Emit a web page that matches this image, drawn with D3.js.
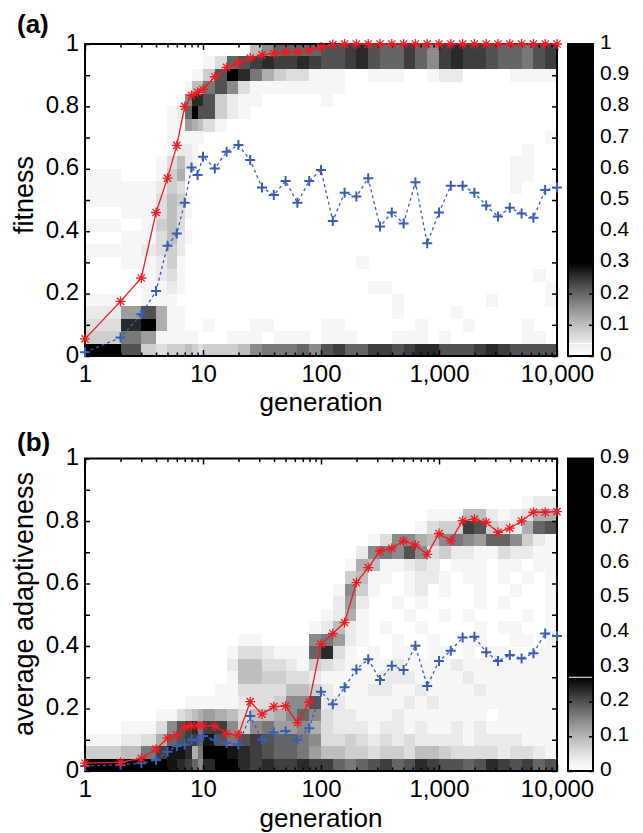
<!DOCTYPE html>
<html>
<head>
<meta charset="utf-8">
<script src="https://cdn.jsdelivr.net/npm/d3@7"></script>
<style>
    body { margin: 0; background: #fff; }
    text { font-family: "Liberation Sans", Arial, sans-serif; fill: #000; }
</style>
</head>
<body>
<svg id="chart" width="643" height="833"></svg>
<script>
// generations sampled (x values of the markers and the heat map column edges)
const generations = [1, 2, 3, 4, 5, 6, 7, 8, 9, 10,
    12.59, 15.85, 19.95, 25.12, 31.62, 39.81, 50.12, 63.1, 79.43, 100,
    125.9, 158.5, 199.5, 251.2, 316.2, 398.1, 501.2, 631, 794.3, 1000,
    1259, 1585, 1995, 2512, 3162, 3981, 5012, 6310, 7943, 10000];

const genTicks = [1, 10, 100, 1000, 10000];
const genTickLabels = ['1', '10', '100', '1,000', '10,000'];

const valueBins = [0, 0.04, 0.08, 0.12, 0.16, 0.2, 0.24, 0.28, 0.32, 0.36, 0.4, 0.44, 0.48,
    0.52, 0.56, 0.6, 0.64, 0.68, 0.72, 0.76, 0.8, 0.84, 0.88, 0.92, 0.96, 1];

const yTicks = [0, 0.1, 0.2, 0.3, 0.4, 0.5, 0.6, 0.7, 0.8, 0.9, 1];
const yTickLabels = ['0', '', '0.2', '', '0.4', '', '0.6', '', '0.8', '', '1'];

// (a) fitness
const fitnessBest = [0.055, 0.175, 0.25, 0.46, 0.57, 0.675, 0.80, 0.835, 0.845, 0.855,
    0.895, 0.925, 0.94, 0.955, 0.965, 0.97, 0.975, 0.975, 0.98, 0.99,
    0.998, 1, 1, 1, 1, 1, 1, 1, 1, 1,
    1, 1, 1, 1, 1, 1, 1, 1, 1, 1];
const fitnessMean = [0.012, 0.059, 0.134, 0.208, 0.353, 0.393, 0.491, 0.604, 0.58, 0.639,
    0.601, 0.655, 0.676, 0.628, 0.54, 0.516, 0.561, 0.491, 0.561, 0.596,
    0.433, 0.523, 0.511, 0.57, 0.415, 0.46, 0.425, 0.557, 0.361, 0.46,
    0.546, 0.546, 0.523, 0.482, 0.447, 0.475, 0.457, 0.443, 0.532, 0.54];
// share of runs per cell, one hex digit per column (0 = none, F = darkest), rows from top bin down
const fitnessDensity = [
    '0000000000000' + '58AAAA' + 'BBCDBAACA8CDCCBAA9BC',
    '000000000' + '13AB' + 'CDCCDC' + 'BBCDBAACA8CDCCBAA9BC',
    '0000000' + '11' + '4BFD9' + '64331' + '11001110012200001111',
    '000000' + '1' + '559B83' + '111111' + '11000000000000000000',
    '00000' + '1' + '8DDB' + '4211' + '00000' + '10000000000000000000',
    '0000' + '12AFBB' + '421' + '000000' + '00000000000000000000',
    '0000' + '117653' + '1' + '00000000' + '00000000000000000000',
    '0000' + '11111' + '0000000000' + '00000000000000000001',
    '0000' + '1221' + '00000000000' + '00000000000000000100',
    '000' + '13521' + '00000000000' + '00000000000000001100',
    '100' + '1461' + '000000000000' + '00000000000000001100',
    '1112' + '43' + '0000000000000' + '00000000000000001000',
    '1113' + '541' + '000000000000' + '00000000000000000000',
    '0113' + '531' + '000000000000' + '00000000000000000000',
    '1014' + '53' + '0000000000000' + '00000000000000000000',
    '0113' + '521' + '000000000000' + '00000000000000000000',
    '1123' + '42' + '0000000000000' + '00000000000000000000',
    '0112' + '41' + '0000000000000' + '00010000000000000000',
    '0012' + '31' + '0000000000000' + '00000000000000000010',
    '0011' + '21' + '0000000000000' + '00001100000000000001',
    '1011' + '10' + '0000000000000' + '00000010000000100001',
    '27B6' + '11' + '0000000000000' + '00000010000100000000',
    '3DF6' + '11' + '0001000110000' + '11000000100010000100',
    '4971' + '1111' + '00011101110' + '11100011101000000110',
    'FB43445434445' + '8999A8' + 'BCAACCBCDDBBBCDCBBBB'
];
const fitnessBarTicks = [0, 0.1, 0.2, 0.3, 0.4, 0.5, 0.6, 0.7, 0.8, 0.9, 1];
const fitnessBarLabels = ['0', '0.1', '0.2', '0.3', '0.4', '0.5', '0.6', '0.7', '0.8', '0.9', '1'];

// (b) average adaptiveness
const adaptBest = [0.025, 0.028, 0.04, 0.07, 0.105, 0.115, 0.14, 0.145, 0.145, 0.145,
    0.144, 0.12, 0.115, 0.222, 0.182, 0.206, 0.208, 0.155, 0.22, 0.406,
    0.44, 0.475, 0.603, 0.651, 0.704, 0.713, 0.736, 0.723, 0.693, 0.76,
    0.737, 0.801, 0.806, 0.796, 0.764, 0.777, 0.80, 0.828, 0.828, 0.83];
const adaptMean = [0.016, 0.02, 0.025, 0.035, 0.062, 0.08, 0.085, 0.101, 0.098, 0.112,
    0.1, 0.09, 0.085, 0.176, 0.1, 0.123, 0.128, 0.1, 0.137, 0.254,
    0.214, 0.268, 0.325, 0.358, 0.291, 0.337, 0.323, 0.401, 0.272, 0.352,
    0.385, 0.427, 0.43, 0.38, 0.352, 0.371, 0.36, 0.377, 0.44, 0.432];
const adaptDensity = [
    '0000000000000000000' + '00000000000000000000',
    '0000000000000000000' + '00000000000000000000',
    '0000000000000000000' + '00000000000000000000',
    '0000000000000000000' + '00000000000000000122',
    '0000000000000000000' + '00000000011155212366',
    '0000000000000000000' + '000000001344CB4326AB',
    '0000000000000000000' + '00001388658987AA8421',
    '0000000000000000000' + '0002898B834221132211',
    '0000000000000000000' + '00165112320111011011',
    '0000000000000000000' + '00451101221011010101',
    '0000000000000000000' + '01841001201001001001',
    '0000000000000000000' + '02720010100001010001',
    '0000000000000000000' + '12610001001010000101',
    '0000000000000000001' + '25210100100001011001',
    '000000000000' + '110000' + '8' + '97210010010011001101',
    '00000000000' + '1332111A' + 'D3101011011010110011',
    '00000000000' + '25533214' + '32111121111211111111',
    '00000000000' + '15544332' + '11111222111121111111',
    '0000000000' + '113333554' + '21112211211112111111',
    '000000' + '111111233488B' + '22111112121111111111',
    '0001134567653556' + '8A8' + '32211121111111011111',
    '01138BCD9CC84897786' + '32221221211212111111',
    '1236ABCCAEB9BCBAA98' + '33432323222212222111',
    '459CEED69FFEDCBAA97' + '55443443554333323321',
    'FFFFEDCA8DFFDCDCCDC' + 'CA9ABCABDCBBABDCBCAB'
];
const adaptBarTicks = [0, 0.1, 0.2, 0.3, 0.4, 0.5, 0.6, 0.7, 0.8, 0.9];
const adaptBarLabels = ['0', '0.1', '0.2', '0.3', '0.4', '0.5', '0.6', '0.7', '0.8', '0.9'];

const RED = '#ec1c24';
const BLUE = '#3a5cb3';

const svg = d3.select('#chart');
const defs = svg.append('defs');

const x = d3.scaleLog().domain([1, 10000]).range([85, 557]);

const panels = [
    {
        name: 'a', top: 44, bottom: 356, best: fitnessBest, mean: fitnessMean,
        density: fitnessDensity, cmax: 0.3, barMax: 1, barTicks: fitnessBarTicks,
        barLabels: fitnessBarLabels, barLine: 0.04, ylabel: 'fitness', ylabelY: 195,
        tag: '(a)', tagY: 33, xlabelY: 411
    },
    {
        name: 'b', top: 458.5, bottom: 771, best: adaptBest, mean: adaptMean,
        density: adaptDensity, cmax: 0.27, barMax: 0.9, barTicks: adaptBarTicks,
        barLabels: adaptBarLabels, barLine: 0.27, ylabel: 'average adaptiveness', ylabelY: 604,
        tag: '(b)', tagY: 451, xlabelY: 827
    }
];

function asterisk(s) {
    const d = s * 0.72;
    return `M${-s},0H${s}M0,${-s}V${s}M${-d},${-d}L${d},${d}M${-d},${d}L${d},${-d}`;
}
function plus(s) {
    return `M${-s},0H${s}M0,${-s}V${s}`;
}

function styleAxis(a, size) {
    a.select('.domain').remove();
    a.selectAll('line').attr('stroke', '#000').attr('stroke-width', 1.5);
    a.selectAll('text').attr('font-size', size).attr('fill', '#000')
        .attr('font-family', '"Liberation Sans", Arial, sans-serif');
}

function drawPanel(p) {
    const y = d3.scaleLinear().domain([0, 1]).range([p.bottom, p.top]);
    const color = d3.scalePow().exponent(1.25).domain([0, p.cmax])
        .range(['#ffffff', '#000000']).clamp(true);
    const g = svg.append('g');

    // heat map cells
    const nRows = valueBins.length - 1;
    const cells = [];
    p.density.forEach((row, i) => {
        const r = nRows - 1 - i;
        row.split('').forEach((ch, c) => {
            const v = parseInt(ch, 16) / 15 * p.cmax;
            if (v > 0) cells.push({c, r, v});
        });
    });
    g.append('g').attr('shape-rendering', 'crispEdges')
        .selectAll('rect').data(cells).join('rect')
        .attr('x', d => x(generations[d.c]))
        .attr('width', d => x(generations[d.c + 1]) - x(generations[d.c]) + 0.5)
        .attr('y', d => y(valueBins[d.r + 1]))
        .attr('height', d => y(valueBins[d.r]) - y(valueBins[d.r + 1]) + 0.5)
        .attr('fill', d => color(d.v));

    // ticks
    const minor = x.ticks().filter(t => !genTicks.includes(t));
    g.append('g').attr('transform', `translate(0,${p.bottom})`)
        .call(d3.axisBottom(x).tickValues(genTicks).tickFormat((d, i) => genTickLabels[i])
            .tickSize(-6).tickPadding(9))
        .call(a => styleAxis(a, 24));
    g.append('g').attr('transform', `translate(0,${p.bottom})`)
        .call(d3.axisBottom(x).tickValues(minor).tickFormat('').tickSize(-3.5))
        .call(a => styleAxis(a, 24));
    g.append('g').attr('transform', `translate(0,${p.top})`)
        .call(d3.axisTop(x).tickValues(genTicks).tickFormat('').tickSize(-6))
        .call(a => styleAxis(a, 24));
    g.append('g').attr('transform', `translate(0,${p.top})`)
        .call(d3.axisTop(x).tickValues(minor).tickFormat('').tickSize(-3.5))
        .call(a => styleAxis(a, 24));
    g.append('g').attr('transform', `translate(${x.range()[0]},0)`)
        .call(d3.axisLeft(y).tickValues(yTicks).tickFormat((d, i) => yTickLabels[i])
            .tickSize(-5).tickPadding(6))
        .call(a => { styleAxis(a, 24); a.selectAll('text').attr('dy', '0.25em'); });
    g.append('g').attr('transform', `translate(${x.range()[1]},0)`)
        .call(d3.axisRight(y).tickValues(yTicks).tickFormat('').tickSize(-5))
        .call(a => styleAxis(a, 24));

    // frame
    g.append('rect')
        .attr('x', x.range()[0]).attr('y', p.top)
        .attr('width', x.range()[1] - x.range()[0]).attr('height', p.bottom - p.top)
        .attr('fill', 'none').attr('stroke', '#000').attr('stroke-width', 2);

    // mean (blue dashed, +) and best (red solid, *)
    const line = d3.line().x((d, i) => x(generations[i])).y(d => y(d));
    g.append('path').datum(p.mean).attr('d', line)
        .attr('fill', 'none').attr('stroke', BLUE).attr('stroke-width', 1.3)
        .attr('stroke-dasharray', '3,3');
    g.append('g').selectAll('path').data(p.mean).join('path')
        .attr('transform', (d, i) => `translate(${x(generations[i])},${y(d)})`)
        .attr('d', plus(5)).attr('stroke', BLUE).attr('stroke-width', 2).attr('fill', 'none');
    g.append('path').datum(p.best).attr('d', line)
        .attr('fill', 'none').attr('stroke', RED).attr('stroke-width', 1.3);
    g.append('g').selectAll('path').data(p.best).join('path')
        .attr('transform', (d, i) => `translate(${x(generations[i])},${y(d)})`)
        .attr('d', asterisk(5)).attr('stroke', RED).attr('stroke-width', 1.3).attr('fill', 'none');

    // colour bar
    const bx0 = 568, bx1 = 593;
    const cy = d3.scaleLinear().domain([0, p.barMax]).range([p.bottom, p.top]);
    const grad = defs.append('linearGradient').attr('id', 'grad-' + p.name)
        .attr('x1', 0).attr('y1', 1).attr('x2', 0).attr('y2', 0);
    d3.range(0, 1.0001, 0.1).map(f => f * p.cmax).concat([p.barMax]).forEach(v => {
        grad.append('stop').attr('offset', v / p.barMax).attr('stop-color', color(v));
    });
    g.append('rect').attr('x', bx0).attr('y', p.top)
        .attr('width', bx1 - bx0).attr('height', p.bottom - p.top)
        .attr('fill', `url(#grad-${p.name})`);
    g.append('line').attr('x1', bx0).attr('x2', bx1)
        .attr('y1', cy(p.barLine)).attr('y2', cy(p.barLine))
        .attr('stroke', '#fff').attr('stroke-width', 1);
    g.append('g').attr('transform', `translate(${bx1},0)`)
        .call(d3.axisRight(cy).tickValues(p.barTicks).tickFormat((d, i) => p.barLabels[i])
            .tickSize(-4).tickPadding(7))
        .call(a => { styleAxis(a, 21); a.selectAll('text').attr('dy', '0.21em'); });
    g.append('g').attr('transform', `translate(${bx0},0)`)
        .call(d3.axisLeft(cy).tickValues(p.barTicks).tickFormat('').tickSize(-4))
        .call(a => styleAxis(a, 21));
    g.append('rect').attr('x', bx0).attr('y', p.top)
        .attr('width', bx1 - bx0).attr('height', p.bottom - p.top)
        .attr('fill', 'none').attr('stroke', '#000').attr('stroke-width', 2);

    // labels
    g.append('text').attr('x', 17).attr('y', p.tagY)
        .attr('font-size', 26).attr('font-weight', 'bold').text(p.tag);
    g.append('text').attr('x', 321).attr('y', p.xlabelY)
        .attr('text-anchor', 'middle').attr('font-size', 26).text('generation');
    g.append('text').attr('transform', `translate(33,${p.ylabelY}) rotate(-90)`)
        .attr('text-anchor', 'middle').attr('font-size', 27).text(p.ylabel);
}

panels.forEach(drawPanel);
</script>
</body>
</html>
